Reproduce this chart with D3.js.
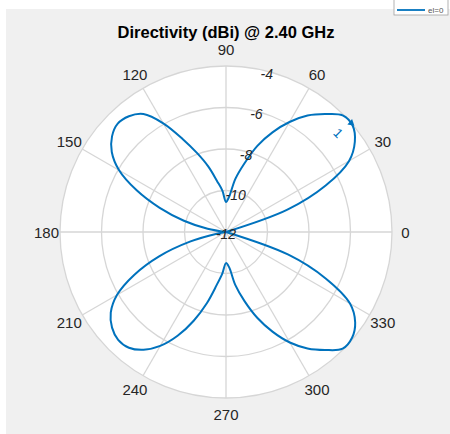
<!DOCTYPE html>
<html>
<head>
<meta charset="utf-8">
<script src="https://cdn.jsdelivr.net/npm/d3@7"></script>
<style>
  html, body { margin: 0; padding: 0; background: #ffffff; }
  svg { display: block; font-family: "Liberation Sans", Arial, Helvetica, sans-serif; }
</style>
</head>
<body>
<svg id="chart" width="450" height="434"></svg>
<script>
// ---- data ----
const title = "Directivity (dBi) @ 2.40 GHz";
const angles = d3.range(0, 360, 5); // degrees, sampled every 5 deg
const directivity = [
  -13.0, -13.0, -12.6, -12.2, -8.85, -6.7, -5.15, -4.42, -4.03, -4.05,
  -4.58, -5.15, -5.88, -6.7, -7.58, -8.58, -9.4, -10.3,
  -10.55, -10.0, -9.5, -8.75, -7.97, -7.05, -5.95, -5.06, -4.72, -4.62,
  -4.83, -5.28, -6.05, -7.25, -8.6, -9.9, -11.1, -12.3,
  -13.0, -12.4, -11.6, -10.2, -8.57, -7.13, -5.94, -5.22, -4.83, -4.65,
  -4.72, -5.07, -5.66, -6.48, -7.45, -8.46, -9.4, -10.0,
  -10.5, -10.3, -9.4, -8.55, -7.6, -6.7, -5.85, -5.15, -4.58, -4.05,
  -4.07, -4.4, -5.1, -6.7, -8.8, -12.2, -13.0, -13.0
];
const angleTicks = [0, 30, 60, 90, 120, 150, 180, 210, 240, 270, 300, 330];
const radialTicks = [-12, -10, -8, -6, -4];
const peakAngle = [41];
const peakValue = [-3.97];
const legendLabel = "el=0";

// ---- layout ----
const W = 450, H = 434;
const cx = 226, cy = 232, R = 166;
const blue = "#0072BD";
const gridColor = "#d6d6d6";
const textColor = "#262626";

const svg = d3.select("#chart");

// figure background
svg.append("rect").attr("x", 6).attr("y", 9).attr("width", W - 6).attr("height", H - 9)
  .attr("fill", "#f0f0f0");

const r = d3.scaleLinear().domain([-12, -4]).range([0, R]).clamp(true);
const toRad = d => d * Math.PI / 180;

const g = svg.append("g").attr("transform", `translate(${cx},${cy})`);

// plot area
g.append("circle").attr("r", R).attr("fill", "#ffffff");

// rings
g.selectAll("circle.ring").data(radialTicks.filter(v => v > -12)).enter()
  .append("circle").attr("class", "ring")
  .attr("r", d => r(d)).attr("fill", "none")
  .attr("stroke", gridColor).attr("stroke-width", 1.3);

// spokes
g.selectAll("line.spoke").data(angleTicks).enter()
  .append("line").attr("class", "spoke")
  .attr("x1", 0).attr("y1", 0)
  .attr("x2", d => R * Math.cos(toRad(d)))
  .attr("y2", d => -R * Math.sin(toRad(d)))
  .attr("stroke", gridColor).attr("stroke-width", 1.3);

// angle labels
g.selectAll("text.ang").data(angleTicks).enter()
  .append("text").attr("class", "ang")
  .attr("x", d => (179.5 + 3 * Math.abs(Math.sin(toRad(d)))) * Math.cos(toRad(d)))
  .attr("y", d => -(179.5 + 3 * Math.abs(Math.sin(toRad(d)))) * Math.sin(toRad(d)))
  .attr("text-anchor", "middle").attr("dominant-baseline", "central")
  .attr("font-size", 15).attr("fill", textColor)
  .text(d => d);

// data curve
const pts = angles.map((a, i) => ({ a: a, v: directivity[i] }));
const line = d3.lineRadial()
  .angle(d => toRad(90 - d.a))
  .radius(d => r(d.v))
  .curve(d3.curveCatmullRomClosed.alpha(0.5));
g.append("path").datum(pts).attr("d", line)
  .attr("fill", "none").attr("stroke", blue).attr("stroke-width", 2)
  .attr("stroke-linejoin", "round");

// radial tick labels
const rLabAng = 75.5;
g.selectAll("text.rt").data(radialTicks).enter()
  .append("text").attr("class", "rt")
  .attr("x", d => Math.max(r(d) - 3, 0) * Math.cos(toRad(rLabAng)))
  .attr("y", d => -Math.max(r(d) - 3, 0) * Math.sin(toRad(rLabAng)) + (d === -12 ? 2 : 0))
  .attr("text-anchor", "middle").attr("dominant-baseline", "central")
  .attr("font-size", 14).attr("font-style", "italic").attr("fill", textColor)
  .text(d => d);

// peak marker
const pa = toRad(peakAngle[0]), pr = r(peakValue[0]);
const px = pr * Math.cos(pa), py = -pr * Math.sin(pa);
g.append("path")
  .attr("d", d3.symbol().type(d3.symbolTriangle).size(22)())
  .attr("transform", `translate(${px},${py}) rotate(${180 - 90 + peakAngle[0] - 90 + 90})`)
  .attr("fill", blue);
g.append("text")
  .attr("transform", `translate(${px - 13},${py + 10}) rotate(45)`)
  .attr("text-anchor", "middle").attr("dominant-baseline", "central")
  .attr("font-size", 13).attr("fill", blue).text("1");

// title
svg.append("text").attr("x", cx).attr("y", 38).attr("text-anchor", "middle")
  .attr("font-size", 16.5).attr("font-weight", "bold").attr("fill", "#000")
  .text(title);

// legend (partially off-canvas)
const lg = svg.append("g").attr("transform", "translate(394,-6)");
lg.append("rect").attr("x", 0).attr("y", 0).attr("width", 54).attr("height", 21)
  .attr("fill", "#ffffff").attr("stroke", "#a0a0a0").attr("stroke-width", 0.8);
lg.append("line").attr("x1", 3).attr("x2", 31).attr("y1", 16).attr("y2", 16)
  .attr("stroke", blue).attr("stroke-width", 1.8);
lg.append("text").attr("x", 34).attr("y", 16).attr("dominant-baseline", "central")
  .attr("font-size", 8).attr("fill", "#555").text(legendLabel);
</script>
</body>
</html>
